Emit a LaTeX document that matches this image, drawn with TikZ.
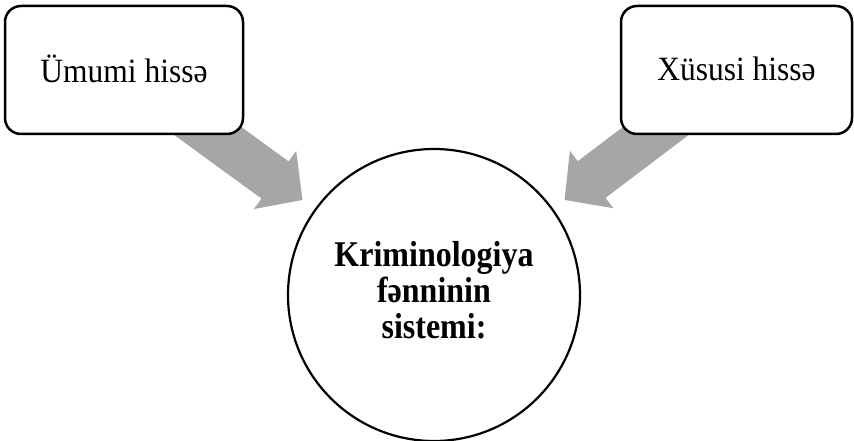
\documentclass[tikz,border=0pt]{standalone}
\usepackage{fontspec}
\setmainfont{Liberation Serif}
\usetikzlibrary{arrows.meta,backgrounds}
\begin{document}
\begin{tikzpicture}[x=1pt,y=-1pt,
  partbox/.style={draw=black,line width=2.5pt,rounded corners=16pt,fill=white,
    inner sep=0pt,font=\fontsize{31.5}{35}\selectfont},
  bigcircle/.style={circle,draw=black,line width=2.2pt,fill=white,inner sep=0pt,
    minimum size=292pt,align=center,font=\fontsize{32}{31}\selectfont\bfseries},
  blockarrow/.style={draw=arrowgray,line width=46pt,
    -{Triangle[length=34pt,width=70pt]}}]
\definecolor{arrowgray}{HTML}{A6A6A6}
\useasboundingbox (0,0) rectangle (854,441);
\node[partbox,minimum width=238pt,minimum height=128pt] (L) at (124,70) {\raisebox{3pt}{\scalebox{1}[1.08]{Ümumi hissə}}};
\node[partbox,minimum width=231pt,minimum height=128pt] (R) at (736.5,70) {\raisebox{3pt}{\scalebox{1}[1.08]{Xüsusi hissə}}};
\node[bigcircle] (C) at (434,295) {\scalebox{1}[1.13]{\begin{tabular}{@{}c@{}}Kriminologiya\\fənninin\\sistemi:\end{tabular}}};
\coordinate (tipL) at (302.5,200);
\coordinate (tipR) at (564.5,200);
\begin{scope}[on background layer]
\draw[blockarrow] (L.center) -- (tipL);
\draw[blockarrow] (R.center) -- (tipR);
\end{scope}
\end{tikzpicture}
\end{document}
